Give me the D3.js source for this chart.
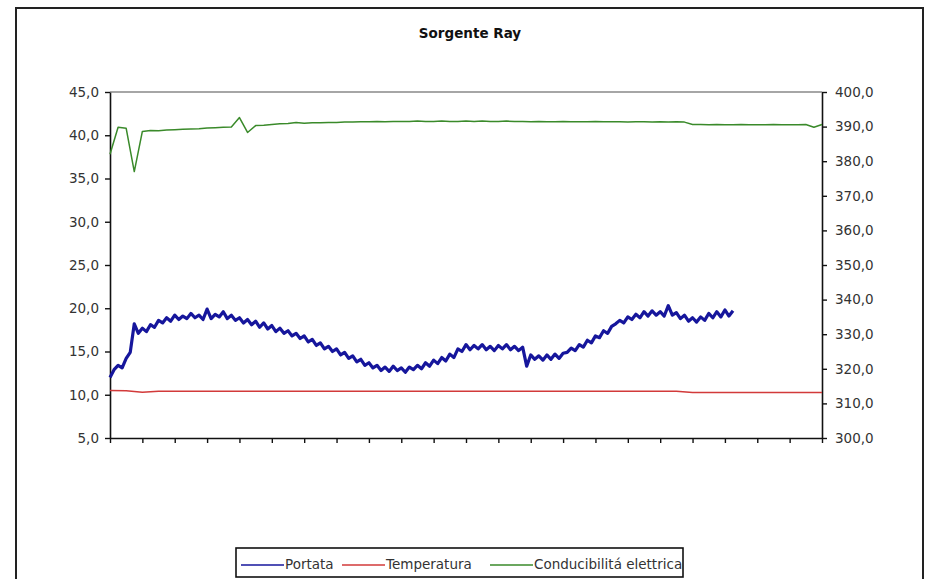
<!DOCTYPE html>
<html>
<head>
<meta charset="utf-8">
<script src="https://cdn.jsdelivr.net/npm/d3@7"></script>
<style>
  body { margin: 0; background: #fff; }
  text { font-family: "DejaVu Sans", sans-serif; fill: #333; }
</style>
</head>
<body>
<div id="chart"></div>
<script>
// values (x in unlabelled tick intervals, 0..22)
var portataStep = 0.125;
var portata = [
  12.0, 12.9, 13.4, 13.1, 14.2, 14.9, 18.2, 17.1, 17.7, 17.3,
  18.1, 17.8, 18.6, 18.3, 18.9, 18.5, 19.2, 18.7, 19.1, 18.8,
  19.4, 18.9, 19.2, 18.7, 19.9, 18.8, 19.3, 19.0, 19.6, 18.8,
  19.2, 18.6, 18.9, 18.3, 18.7, 18.1, 18.5, 17.8, 18.3, 17.6,
  18.0, 17.3, 17.7, 17.1, 17.4, 16.8, 17.1, 16.5, 16.8, 16.1,
  16.4, 15.7, 16.0, 15.3, 15.6, 15.0, 15.3, 14.6, 14.9, 14.2,
  14.5, 13.8, 14.1, 13.4, 13.7, 13.1, 13.4, 12.8, 13.2, 12.7,
  13.3, 12.8, 13.1, 12.6, 13.2, 12.9, 13.4, 13.0, 13.7, 13.3,
  14.0, 13.6, 14.3, 13.9, 14.7, 14.3, 15.3, 15.0, 15.8, 15.2,
  15.7, 15.3, 15.8, 15.2, 15.6, 15.1, 15.7, 15.3, 15.8, 15.2,
  15.6, 15.1, 15.5, 13.3, 14.6, 14.1, 14.5, 14.0, 14.6, 14.1,
  14.7, 14.2, 14.8, 14.9, 15.4, 15.1, 15.8, 15.5, 16.3, 16.0,
  16.8, 16.6, 17.4, 17.1, 17.9, 18.2, 18.6, 18.3, 19.0, 18.7,
  19.3, 18.9, 19.6, 19.1, 19.7, 19.2, 19.6, 19.1, 20.3, 19.2,
  19.5, 18.8, 19.2, 18.5, 18.9, 18.4, 19.0, 18.6, 19.4, 18.9,
  19.6, 19.0, 19.8, 19.1, 19.7
];

var temperaturaStep = 0.5;
var temperatura = [
  10.5, 10.45, 10.3, 10.4, 10.4, 10.4, 10.4, 10.4, 10.4, 10.4,
  10.4, 10.4, 10.4, 10.4, 10.4, 10.4, 10.4, 10.4, 10.4, 10.4,
  10.4, 10.4, 10.4, 10.4, 10.4, 10.4, 10.4, 10.4, 10.4, 10.4,
  10.4, 10.4, 10.4, 10.4, 10.4, 10.4, 10.25, 10.25, 10.25, 10.25,
  10.25, 10.25, 10.25, 10.25, 10.25
];

var conducibilitaStep = 0.25;
var conducibilita = [
  382.0, 389.8, 389.5, 377.0, 388.6, 388.9, 388.8, 389.0, 389.1, 389.2,
  389.3, 389.4, 389.6, 389.7, 389.8, 389.9, 392.6, 388.3, 390.3, 390.4,
  390.6, 390.8, 390.9, 391.2, 391.0, 391.1, 391.1, 391.2, 391.2, 391.3,
  391.3, 391.4, 391.4, 391.5, 391.4, 391.5, 391.5, 391.5, 391.6, 391.5,
  391.5, 391.6, 391.5, 391.5, 391.6, 391.5, 391.6, 391.5, 391.5, 391.6,
  391.5, 391.5, 391.4, 391.5, 391.4, 391.4, 391.5, 391.4, 391.4, 391.4,
  391.5, 391.4, 391.4, 391.4, 391.3, 391.4, 391.4, 391.3, 391.4, 391.3,
  391.4, 391.3, 390.6, 390.6, 390.5, 390.6, 390.5, 390.5, 390.6, 390.5,
  390.5, 390.5, 390.6, 390.5, 390.5, 390.5, 390.6, 389.8, 390.6
];

var leftTicks = [5, 10, 15, 20, 25, 30, 35, 40, 45];
var rightTicks = [300, 310, 320, 330, 340, 350, 360, 370, 380, 390, 400];
var seriesNames = ["Portata", "Temperatura", "Conducibilitá elettrica"];
var seriesColors = ["#16169c", "#d23a3a", "#3a8a2a"];

var width = 925, height = 579;
var margin = {top: 92, right: 103, bottom: 141, left: 110};

const svg = d3.select("#chart")
    .append("svg")
    .attr("width", width)
    .attr("height", height);

// outer chart border
svg.append("rect")
    .attr("x", 16).attr("y", 8)
    .attr("width", 907).attr("height", 590)
    .attr("fill", "none")
    .attr("stroke", "#222")
    .attr("stroke-width", 2);

svg.append("text")
    .attr("x", 470).attr("y", 38)
    .attr("text-anchor", "middle")
    .style("font-size", "13.5px")
    .style("font-weight", "bold")
    .style("fill", "#111")
    .text("Sorgente Ray");

var x = d3.scaleLinear().domain([0, 22]).range([margin.left, width - margin.right]);
var yL = d3.scaleLinear().domain([5, 45]).range([height - margin.bottom, margin.top]);
var yR = d3.scaleLinear().domain([300, 400]).range([height - margin.bottom, margin.top]);

var fmt = d => d.toFixed(1).replace(".", ",");

// top edge of plot area
svg.append("line")
    .attr("x1", x(0)).attr("x2", x(22))
    .attr("y1", yL(45)).attr("y2", yL(45))
    .attr("stroke", "#888")
    .attr("stroke-width", 1.5);

var axL = svg.append("g")
    .attr("transform", `translate(${x(0)},0)`)
    .call(d3.axisLeft(yL).tickValues(leftTicks).tickFormat(fmt).tickSize(5).tickSizeOuter(0).tickPadding(6));

var axR = svg.append("g")
    .attr("transform", `translate(${x(22)},0)`)
    .call(d3.axisRight(yR).tickValues(rightTicks).tickFormat(fmt).tickSize(5).tickSizeOuter(0).tickPadding(8));

var axB = svg.append("g")
    .attr("transform", `translate(0,${yL(5)})`)
    .call(d3.axisBottom(x).tickValues(d3.range(0, 23)).tickFormat("").tickSize(5).tickSizeOuter(0));

[axL, axR, axB].forEach(function(g) {
  g.select(".domain").attr("stroke", "#111").attr("stroke-width", 1.6);
  g.selectAll(".tick line").attr("stroke", "#111").attr("stroke-width", 1.4);
  g.selectAll(".tick text")
    .style("font-family", "DejaVu Sans, sans-serif")
    .style("font-size", "13.5px")
    .style("fill", "#333");
});

// lines
function drawLine(values, step, yScale, color, w) {
  var line = d3.line()
      .x((d, i) => x(i * step))
      .y(d => yScale(d));
  svg.append("path")
      .datum(values)
      .attr("fill", "none")
      .attr("stroke", color)
      .attr("stroke-width", w)
      .attr("stroke-linejoin", "round")
      .attr("d", line);
}

drawLine(conducibilita, conducibilitaStep, yR, seriesColors[2], 1.5);
drawLine(temperatura, temperaturaStep, yL, seriesColors[1], 1.5);
drawLine(portata, portataStep, yL, seriesColors[0], 3.2);

// legend
var legend = svg.append("g");
legend.append("rect")
    .attr("x", 236).attr("y", 548)
    .attr("width", 447).attr("height", 29)
    .attr("fill", "#fff")
    .attr("stroke", "#111")
    .attr("stroke-width", 1.6);

var legendX = [241, 342, 490];
seriesNames.forEach(function(name, i) {
  legend.append("line")
      .attr("x1", legendX[i]).attr("x2", legendX[i] + 43)
      .attr("y1", 565).attr("y2", 565)
      .attr("stroke", seriesColors[i])
      .attr("stroke-width", 1.6);
  legend.append("text")
      .attr("x", legendX[i] + 44).attr("y", 569)
      .style("font-size", "13.5px")
      .text(name);
});
</script>
</body>
</html>
